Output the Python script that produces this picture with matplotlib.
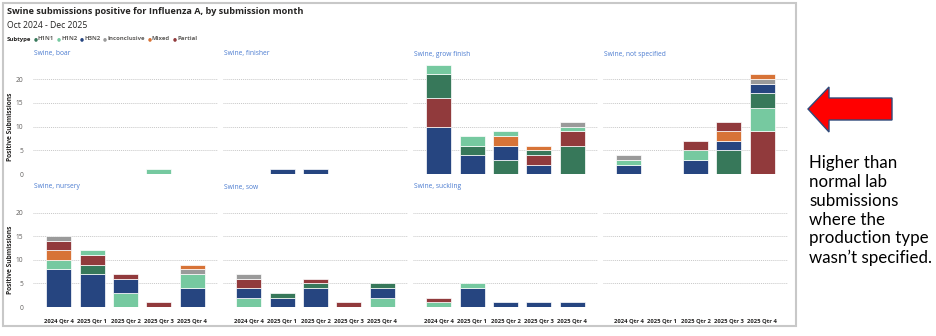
import numpy as np
import matplotlib
matplotlib.use("Agg")
from matplotlib import pyplot as plt
from matplotlib.patches import Polygon, Rectangle

W, H = 936, 336

quarters = ["2024 Qtr 4", "2025 Qtr 1", "2025 Qtr 2", "2025 Qtr 3", "2025 Qtr 4"]
subtypes = ["H1N1", "H1N2", "H3N2", "Inconclusive", "Mixed", "Partial"]
colors = ["#37785A", "#76C9A0", "#264580", "#9A9A9A", "#D77337", "#913A3C"]

# rows follow `subtypes`, columns follow `quarters`
boar = [[0, 0, 0, 0, 0], [0, 0, 0, 1, 0], [0, 0, 0, 0, 0],
        [0, 0, 0, 0, 0], [0, 0, 0, 0, 0], [0, 0, 0, 0, 0]]
finisher = [[0, 0, 0, 0, 0], [0, 0, 0, 0, 0], [0, 1, 1, 0, 0],
            [0, 0, 0, 0, 0], [0, 0, 0, 0, 0], [0, 0, 0, 0, 0]]
grow_finish = [[5, 2, 3, 1, 6], [2, 2, 1, 0, 1], [10, 4, 3, 2, 0],
               [0, 0, 0, 0, 1], [0, 0, 2, 1, 0], [6, 0, 0, 2, 3]]
not_specified = [[0, 0, 0, 5, 3], [1, 0, 2, 0, 5], [2, 0, 3, 2, 2],
                 [1, 0, 0, 0, 1], [0, 0, 0, 2, 1], [0, 0, 2, 2, 9]]
nursery = [[0, 2, 0, 0, 0], [2, 1, 3, 0, 3], [8, 7, 3, 0, 4],
           [1, 0, 0, 0, 1], [2, 0, 0, 0, 1], [2, 2, 1, 1, 0]]
sow = [[0, 1, 1, 0, 1], [2, 0, 0, 0, 2], [2, 2, 4, 0, 2],
       [1, 0, 0, 0, 0], [0, 0, 0, 0, 0], [2, 0, 1, 1, 0]]
suckling = [[0, 0, 0, 0, 0], [1, 1, 0, 0, 0], [0, 4, 1, 1, 1],
            [0, 0, 0, 0, 0], [0, 0, 0, 0, 0], [1, 0, 0, 0, 0]]

panels = [("Swine, boar", boar), ("Swine, finisher", finisher),
          ("Swine, grow finish", grow_finish), ("Swine, not specified", not_specified),
          ("Swine, nursery", nursery), ("Swine, sow", sow),
          ("Swine, suckling", suckling), (None, None)]

FONT = "Open Sans"
plt.rcParams['font.family'] = [FONT, 'DejaVu Sans']

fig = plt.figure(figsize=(W / 100, H / 100), dpi=100)


def fx(x):
    return x / W


def fy(y):
    return 1 - y / H


# outer frame of the visual
fig.patches.append(Rectangle((fx(3), fy(326)), fx(793), 323 / H, transform=fig.transFigure,
                             fill=False, edgecolor="#C8C8C8", lw=1.5))

fig.text(fx(7), fy(12), "Swine submissions positive for Influenza A, by submission month",
         fontsize=6.6, fontweight="bold", color="#252423", va="center")
fig.text(fx(7), fy(25.5), "Oct 2024 - Dec 2025", fontsize=6.2, color="#252423", va="center")

# legend row
renderer = fig.canvas.get_renderer()
t = fig.text(fx(7), fy(39), "Subtype", fontsize=4.3, fontweight="bold", color="#252423", va="center")
x = t.get_window_extent(renderer).x1 + 2
for name, c in zip(subtypes, colors):
    d = fig.text(x / W, fy(39), "●", fontsize=3.3, color=c, va="center")
    x = d.get_window_extent(renderer).x1 + 0.5
    t = fig.text(x / W, fy(39), name, fontsize=4.3, fontweight="bold", color="#605E5C", va="center")
    x = t.get_window_extent(renderer).x1 + 2.5

col_left = [33, 223, 413, 603]
col_w = 185
row_zero = [174, 307]
unit = [4.75, 4.72]
ymax = 24

for i, (title, data) in enumerate(panels):
    r, c = divmod(i, 4)
    top = row_zero[r] - ymax * unit[r]
    ax = fig.add_axes([fx(col_left[c]), fy(row_zero[r]), col_w / W, (row_zero[r] - top) / H])
    ax.set_xlim(-0.77, 4.77)
    ax.set_ylim(0, ymax)
    for s in ax.spines.values():
        s.set_visible(False)
    for g in [0, 5, 10, 15, 20]:
        ax.axhline(g, color="#C8C8C8", lw=0.7, ls=(0, (1, 1)), zorder=0)
    ax.set_yticks([0, 5, 10, 15, 20])
    ax.tick_params(length=0, pad=7)
    if c == 0:
        ax.set_yticklabels(["0", "5", "10", "15", "20"], fontsize=4.8, color="#605E5C")
        fig.text(fx(10.5), fy(row_zero[r] - 10 * unit[r]), "Positive Submissions", rotation=90,
                 fontsize=4.8, fontweight="bold", color="#252423", ha="center", va="center")
    else:
        ax.set_yticklabels([])
    ax.set_xticks(range(len(quarters)))
    if r == 1:
        ax.set_xticklabels(quarters, fontsize=4.2, fontweight="bold", color="#252423")
        ax.tick_params(axis="x", pad=8)
    else:
        ax.set_xticklabels([])
    if title is not None:
        fig.text(fx(col_left[c] + 1), fy(row_zero[r] - 120), title, fontsize=4.8,
                 color="#4A7BD0", va="center")
        vals = np.array(data)
        for q in range(len(quarters)):
            # biggest subtype at the bottom, ties in legend order
            order = sorted(range(len(subtypes)), key=lambda k: -vals[k, q])
            bottom = 0
            for k in order:
                if vals[k, q] == 0:
                    continue
                ax.bar(q, vals[k, q], bottom=bottom, width=0.75, color=colors[k],
                       edgecolor="white", lw=0.5, zorder=2)
                bottom += vals[k, q]

# red arrow pointing at the "not specified" panel
arrow = [(808, 109), (829, 87), (829, 98), (892, 98), (892, 120), (829, 120), (829, 132)]
fig.patches.append(Polygon([(fx(a), fy(b)) for a, b in arrow], closed=True, transform=fig.transFigure,
                           facecolor="#FF0000", edgecolor="#2F4A7A", lw=1))

fig.text(fx(809), fy(155), "Higher than\nnormal lab\nsubmissions\nwhere the\nproduction type\nwasn\u2019t specified.",
         fontsize=12.2, family=["Lato", "DejaVu Sans"], color="black", va="top", linespacing=1.22)

fig.savefig("out.png", dpi=100)
